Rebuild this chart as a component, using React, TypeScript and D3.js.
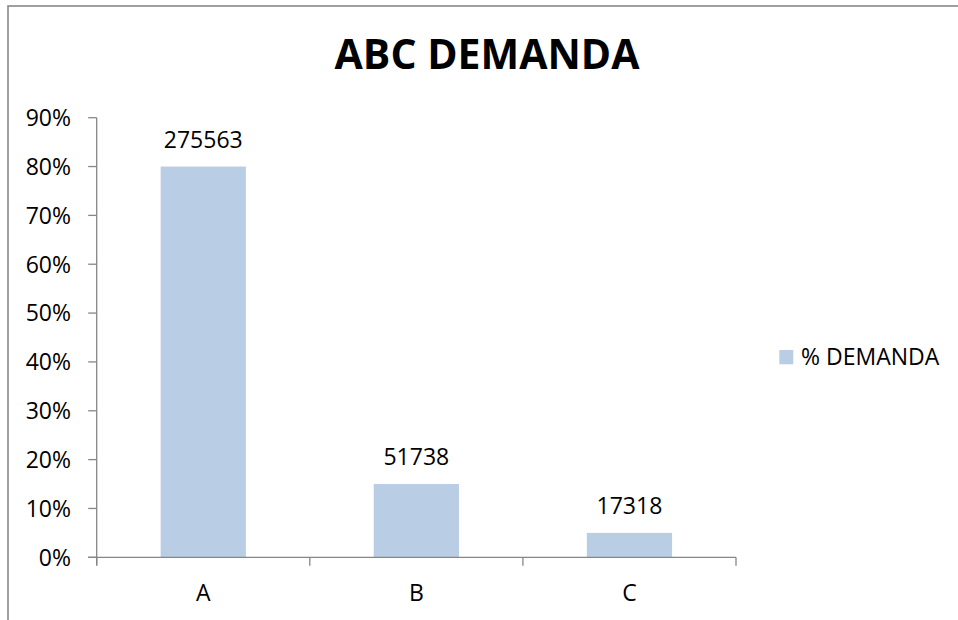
import React from "react";
import * as d3 from "d3";

const categories = ["A", "B", "C"];
const shares = [0.8, 0.15, 0.05];
const demand = [275563, 51738, 17318];
const yTicks = [0, 0.1, 0.2, 0.3, 0.4, 0.5, 0.6, 0.7, 0.8, 0.9];
const seriesName = "% DEMANDA";
const title = "ABC DEMANDA";

const W = 958;
const H = 620;
const font = "'Open Sans', sans-serif";
const axisColor = "#868686";
const barColor = "#B9CDE5";
const labelSize = 23;

function App() {
  const x = d3
    .scaleBand<string>()
    .domain(categories)
    .range([96.7, 736])
    .paddingInner(0.6)
    .paddingOuter(0.3);

  const y = d3.scaleLinear().domain([0, 0.9]).range([557.3, 117.7]);

  const step = x.step();
  const x0 = x.range()[0];
  // tick positions at band boundaries
  const xTickPos = d3.range(categories.length + 1).map(i => x0 + i * step);

  return (
    <svg
      width={W}
      height={H}
      style={{ position: "absolute", left: 0, top: 0, background: "#fff" }}
    >
      {/* chart border (cut off at right / bottom) */}
      <rect
        x={8}
        y={6}
        width={W + 20}
        height={H + 20}
        fill="#fff"
        stroke="#888"
        strokeWidth={1.6}
      />

      <text
        x={487}
        y={68.5}
        textAnchor="middle"
        fontFamily={font}
        fontWeight="bold"
        fontSize={41}
        fill="#000"
      >
        {title}
      </text>

      {/* bars */}
      {categories.map((c, i) => (
        <rect
          key={c}
          x={x(c)}
          y={y(shares[i])}
          width={x.bandwidth()}
          height={y(0) - y(shares[i])}
          fill={barColor}
        />
      ))}

      {/* data labels */}
      {categories.map((c, i) => (
        <text
          key={"l" + c}
          x={(x(c) as number) + x.bandwidth() / 2}
          y={y(shares[i]) - 19}
          textAnchor="middle"
          fontFamily={font}
          fontSize={labelSize}
          fill="#000"
        >
          {demand[i]}
        </text>
      ))}

      {/* y axis */}
      <line x1={x0} x2={x0} y1={y(0.9)} y2={y(0) + 8} stroke={axisColor} strokeWidth={1.3} />
      {yTicks.map(t => (
        <g key={t}>
          <line x1={x0 - 8.5} x2={x0} y1={y(t)} y2={y(t)} stroke={axisColor} strokeWidth={1.3} />
          <text
            x={71}
            y={y(t)}
            dy="0.36em"
            textAnchor="end"
            fontFamily={font}
            fontSize={labelSize}
            fill="#000"
          >
            {d3.format(".0%")(t)}
          </text>
        </g>
      ))}

      {/* x axis */}
      <line x1={x0 - 8.5} x2={xTickPos[xTickPos.length - 1]} y1={y(0)} y2={y(0)} stroke={axisColor} strokeWidth={1.3} />
      {xTickPos.map((p, i) => (
        <line key={i} x1={p} x2={p} y1={y(0)} y2={y(0) + 8.5} stroke={axisColor} strokeWidth={1.3} />
      ))}
      {categories.map(c => (
        <text
          key={"c" + c}
          x={(x(c) as number) + x.bandwidth() / 2}
          y={601}
          textAnchor="middle"
          fontFamily={font}
          fontSize={labelSize}
          fill="#000"
        >
          {c}
        </text>
      ))}

      {/* legend */}
      <rect x={779.3} y={350} width={14} height={14.3} fill={barColor} />
      <text x={801} y={364.5} fontFamily={font} fontSize={labelSize} fill="#000">
        {seriesName}
      </text>
    </svg>
  );
}

export default App;
